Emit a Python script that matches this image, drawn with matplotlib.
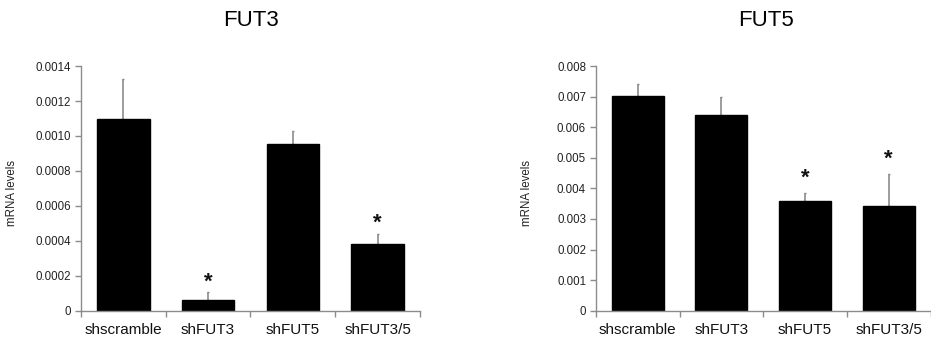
import matplotlib
matplotlib.use('Agg')
import matplotlib.pyplot as plt
import numpy as np

plt.rcParams['font.family'] = ['Liberation Sans', 'DejaVu Sans']

groups = ['shscramble', 'shFUT3', 'shFUT5', 'shFUT3/5']

# FUT3 panel
fut3_mean = [0.00110, 0.000061, 0.000952, 0.000383]
fut3_err = [0.000224, 0.000044, 0.000078, 0.000056]
fut3_stars = [False, True, False, True]

# FUT5 panel
fut5_mean = [0.00702, 0.00641, 0.00360, 0.00341]
fut5_err = [0.00041, 0.00059, 0.00024, 0.00106]
fut5_stars = [False, False, True, True]

fig = plt.figure(figsize=(9.31, 3.39), dpi=100)
axis_grey = '#8c8c8c'


def panel(rect, mean, err, stars, ymax, step, fmt, star_gap):
    ax = fig.add_axes(rect)
    x = np.arange(len(groups))
    ax.bar(x, mean, width=0.62, color='black', edgecolor='black', zorder=2)
    ax.errorbar(x, mean, yerr=[np.zeros(len(err)), err], fmt='none',
                ecolor=axis_grey, elinewidth=1.2, capsize=1, capthick=1, zorder=1)
    for xi, m, e, s in zip(x, mean, err, stars):
        if s:
            ax.text(xi, m + e + star_gap, '*', ha='center', va='center',
                    fontsize=16, fontweight='bold', color='#111111')
    ax.set_xlim(-0.5, len(groups) - 0.5)
    ax.set_ylim(0, ymax)
    ticks = np.arange(0, ymax + step / 2, step)
    ax.set_yticks(ticks)
    ax.set_yticklabels(['0'] + [fmt % t for t in ticks[1:]])
    ax.set_xticks(x)
    ax.set_xticklabels(groups, fontsize=11, color='#111111')
    ax.set_xticks(np.arange(-0.5, len(groups)), minor=True)
    ax.tick_params(axis='x', which='major', length=0, pad=9)
    ax.tick_params(axis='x', which='minor', length=4, color=axis_grey, width=1)
    ax.tick_params(axis='y', length=4, color=axis_grey, width=1, labelsize=8.3,
                   labelcolor='#222222', pad=3)
    for side in ['top', 'right']:
        ax.spines[side].set_visible(False)
    for side in ['left', 'bottom']:
        ax.spines[side].set_color(axis_grey)
        ax.spines[side].set_linewidth(1)
    ax.set_ylabel('mRNA levels', fontsize=8.3, color='#222222')
    ax.yaxis.set_label_coords(-0.187, 0.48)
    return ax


ax1 = panel([0.087, 0.0835, 0.364, 0.7215], fut3_mean, fut3_err,
            fut3_stars, 0.0014, 0.0002, '%.4f', 0.00006)
ax2 = panel([0.640, 0.0835, 0.3595, 0.7215], fut5_mean, fut5_err,
            fut5_stars, 0.008, 0.001, '%.3f', 0.0005)

fig.text(251 / 931, 1 - 21 / 339, 'FUT3', ha='center', va='center', fontsize=16)
fig.text(766 / 931, 1 - 21 / 339, 'FUT5', ha='center', va='center', fontsize=16)

fig.savefig('out.png', dpi=100)
